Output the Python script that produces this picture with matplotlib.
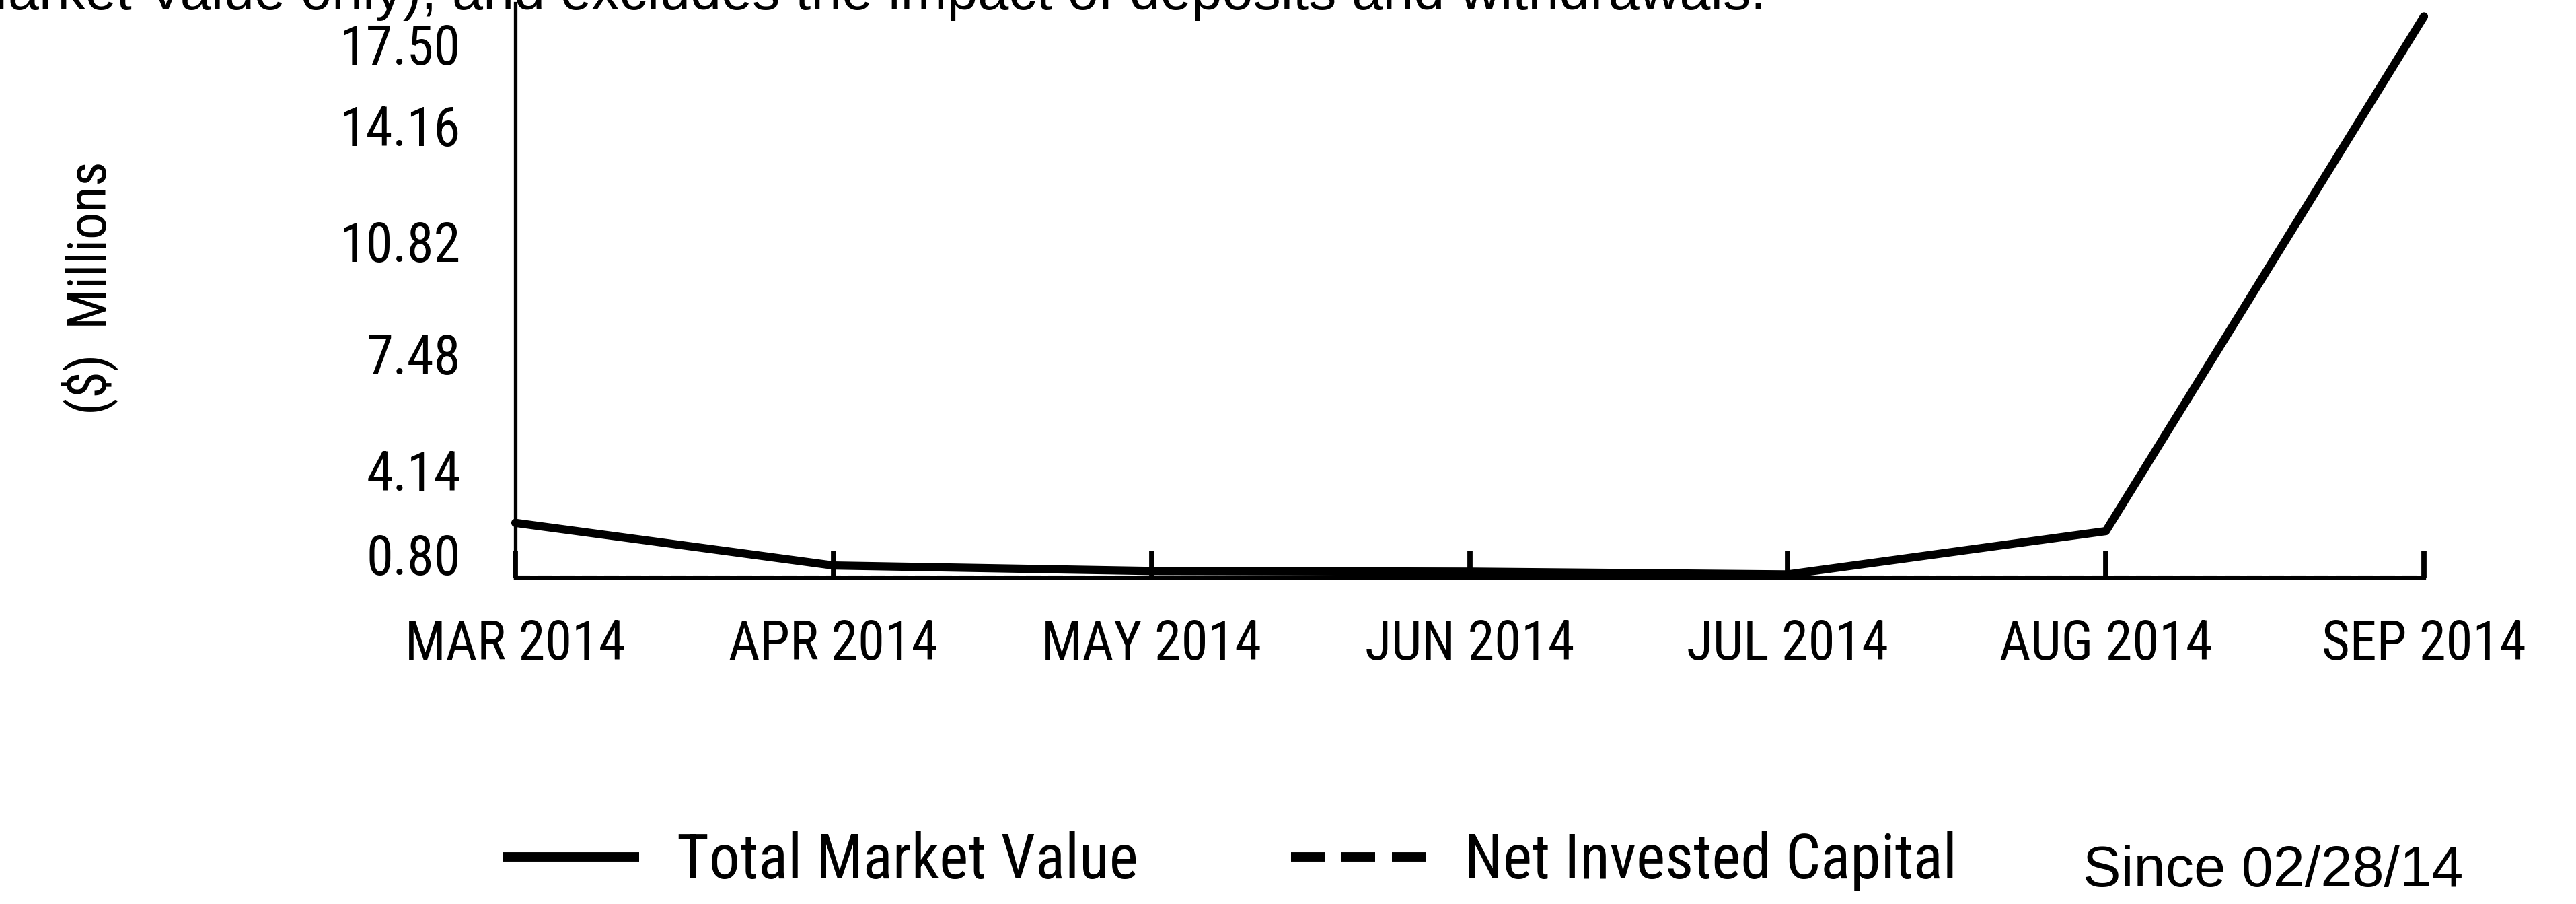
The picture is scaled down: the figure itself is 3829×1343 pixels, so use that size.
import matplotlib
matplotlib.use("Agg")
import matplotlib.pyplot as plt
from matplotlib.lines import Line2D
from matplotlib import font_manager as fm
from matplotlib.font_manager import FontProperties

# ---- data ----
months = ["MAR 2014", "APR 2014", "MAY 2014", "JUN 2014", "JUL 2014", "AUG 2014", "SEP 2014"]
total_market_value = [2.39, 1.15, 0.99, 0.97, 0.89, 2.15, 17.12]
net_invested_capital = [0.80, 0.80, 0.80, 0.80, 0.80, 0.80, 0.80]
y_ticks = [0.80, 4.14, 7.48, 10.82, 14.16, 17.50]
y_tick_labels = ["0.80", "4.14", "7.48", "10.82", "14.16", "17.50"]
series_labels = ["Total Market Value", "Net Invested Capital"]
since_text = "Since 02/28/14"
y_axis_label = "($)  Millions"
top_text = "(Total Market Value only), and excludes the impact of deposits and withdrawals."

# ---- fonts: look for a condensed face, else regular sans ----
def find_condensed():
    prefs = ["liberation sans narrow", "roboto condensed", "open sans condensed",
             "noto sans condensed", "noto sans", "dejavu sans condensed", "dejavu sans"]
    cands = []
    for f in fm.fontManager.ttflist:
        n = f.name.lower()
        fn = f.fname.lower()
        if any(k in fn for k in ("bold", "italic", "oblique", "light", "thin", "medium",
                                 "black", "semibold", "extra")):
            continue
        narrow = ("condensed" in n or "narrow" in n or "condensed" in fn or "narrow" in fn
                  or str(f.stretch) in ("condensed", "semi-condensed", "extra-condensed"))
        if not narrow:
            continue
        rank = len(prefs)
        for i, p in enumerate(prefs):
            if n.startswith(p):
                rank = i
                break
        cands.append((rank, f.fname))
    if cands:
        cands.sort()
        return FontProperties(fname=cands[0][1])
    return FontProperties(family=["Liberation Sans", "DejaVu Sans"])

NARROW_FP = find_condensed()
REG_FP = FontProperties(family=["Liberation Sans", "DejaVu Sans"])

W, H, DPI = 3829, 1343, 200
PX2PT = 72.0 / DPI
fig = plt.figure(figsize=(W / DPI, H / DPI), dpi=DPI)
fig.patch.set_facecolor("white")
renderer = fig.canvas.get_renderer()


def fit_size(text, fp, target_w, target_cap, slack=1.0):
    f2 = fp.copy()
    f2.set_size(100)
    t = fig.text(0, 0, text, fontproperties=f2)
    w = t.get_window_extent(renderer).width
    t.remove()
    s_w = 100.0 * target_w / w * slack
    s_c = target_cap / 0.72 * PX2PT
    return min(s_w, s_c)


def sized(fp, size):
    f2 = fp.copy()
    f2.set_size(size)
    return f2


ytick_size = fit_size("17.50", NARROW_FP, 172, 65, 1.05)
xtick_size = fit_size("MAR 2014", NARROW_FP, 312, 63, 1.05)
ylab_size = fit_size(y_axis_label, NARROW_FP, 362, 69, 1.04)
leg_size = fit_size(series_labels[0], NARROW_FP, 686, 67)
since_size = fit_size(since_text, REG_FP, 572, 61)
top_size = fit_size("posits and withdrawals.", REG_FP, 855, 60)

L, R, B, T = 766, 3603, 858, 5
ax = fig.add_axes([L / W, 1 - B / H, (R - L) / W, (B - T) / H])

x = list(range(len(months)))
ax.plot(x, total_market_value, color="black", lw=4.4, solid_capstyle="round",
        solid_joinstyle="round", clip_on=False, zorder=3)
ax.plot(x, net_invested_capital, color="black", lw=2.2, dashes=(3.6, 1.8),
        clip_on=False, zorder=3)

ax.set_xlim(0, len(months) - 1)
ax.set_ylim(y_ticks[0], y_ticks[-1])

for s in ["top", "right"]:
    ax.spines[s].set_visible(False)
for s in ["left", "bottom"]:
    ax.spines[s].set_linewidth(1.9)
    ax.spines[s].set_color("black")

# x ticks
ax.set_xticks(x)
ax.set_xticklabels(months)
for lab in ax.get_xticklabels():
    lab.set_fontproperties(sized(NARROW_FP, xtick_size))
xcap_px = 0.72 * xtick_size / PX2PT
xpad_px = 948 - xcap_px / 2 - B
ax.tick_params(axis="x", direction="in", length=14.4, width=2.8,
               pad=xpad_px * PX2PT, colors="black")

# y ticks: no marks, labels nudged like the source
ax.set_yticks(y_ticks)
ax.tick_params(axis="y", length=0, labelleft=False)
label_centers = [825, 700, 527, 360, 188, 67]  # where the source prints each label
tick_px = [B - (v - y_ticks[0]) / (y_ticks[-1] - y_ticks[0]) * (B - T) for v in y_ticks]
ycap_px = 0.72 * ytick_size / PX2PT
for v, lab, c, tp in zip(y_ticks, y_tick_labels, label_centers, tick_px):
    dy = tp - (c + ycap_px / 2)
    ax.annotate(lab, xy=(0, v), xycoords=("axes fraction", "data"),
                xytext=(-81, dy), textcoords="offset pixels",
                ha="right", va="baseline", fontproperties=sized(NARROW_FP, ytick_size),
                annotation_clip=False)

fig.text(134 / W, 1 - 428 / H, y_axis_label, rotation=90, ha="center", va="center",
         fontproperties=sized(NARROW_FP, ylab_size))

# partially cut text at the top
fig.text(2625 / W, 1 - 14 / H, top_text, ha="right", va="baseline",
         fontproperties=sized(REG_FP, top_size))

# legend
fs_px = leg_size / PX2PT
handles = [
    Line2D([], [], color="black", lw=5.0, solid_capstyle="butt"),
    Line2D([], [], color="black", lw=5.0, dashes=(3.6, 1.8), dash_capstyle="butt"),
]
fig.legend(handles, series_labels, loc="center left",
           bbox_to_anchor=(748 / W, 1 - 1280 / H), ncol=2, frameon=False,
           prop=sized(NARROW_FP, leg_size), handlelength=202 / fs_px,
           handletextpad=56 / fs_px, columnspacing=227 / fs_px,
           borderpad=0, borderaxespad=0)

fig.text(3096 / W, 1 - 1317 / H, since_text, ha="left", va="baseline",
         fontproperties=sized(REG_FP, since_size))

fig.savefig("out.png", dpi=DPI, facecolor="white")
